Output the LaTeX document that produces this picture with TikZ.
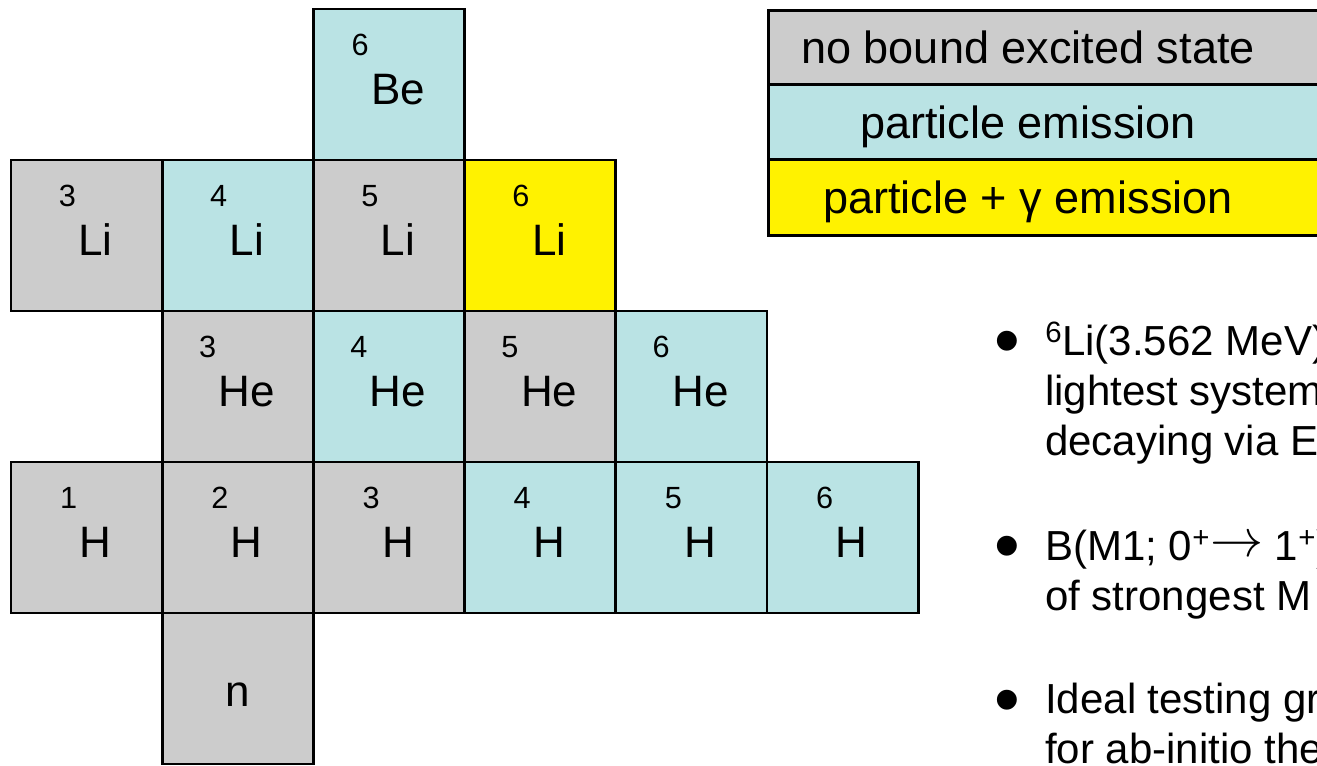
\documentclass[tikz,border=0pt]{standalone}
\usepackage{fontspec}
\setmainfont{Liberation Sans}
\usetikzlibrary{calc}
\definecolor{cgray}{RGB}{204,204,204}
\definecolor{ccyan}{RGB}{186,227,228}
\definecolor{cyel}{RGB}{255,242,0}
\newcommand\nuc[6]{%
  \node[cell, fill=#4] (#1) at ({11+151.2*(#2+0.5)}, {9+151*(#3+0.5)}) {};
  \node[sym, anchor=base] (#1s) at ({11+151.2*(#2+0.5)+9}, {9+151*#3+95}) {#6};
  \node[num, anchor=base east] (#1n) at ($(#1s.base west)+(-2,-49)$) {#5};
}
\begin{document}
\begin{tikzpicture}[x=0.75pt,y=-0.75pt,
  cell/.style={draw=black, line width=2.2pt, minimum width=113.4pt, minimum height=113.25pt, inner sep=0pt},
  sym/.style={font=\fontsize{33}{40}\selectfont, inner sep=0pt},
  num/.style={font=\fontsize{23}{28}\selectfont, inner sep=0pt},
  leg/.style={draw=black, line width=2.2pt, minimum width=450pt, inner sep=0pt, anchor=north west},
  legtext/.style={font=\fontsize{33.8}{40}\selectfont, inner sep=0pt, anchor=base},
  bul/.style={font=\fontsize{31.5}{38}\selectfont, inner sep=0pt, anchor=base west},
  dot/.style={font=\fontsize{55}{60}\selectfont, inner sep=0pt}]
\clip (0,0) rectangle (1317,765);
\fill[white] (0,0) rectangle (1317,765);
% Row 0
\nuc{Be6}{2}{0}{ccyan}{6}{Be}
% Row 1
\nuc{Li3}{0}{1}{cgray}{3}{Li}
\nuc{Li4}{1}{1}{ccyan}{4}{Li}
\nuc{Li5}{2}{1}{cgray}{5}{Li}
\nuc{Li6}{3}{1}{cyel}{6}{Li}
% Row 2
\nuc{He3}{1}{2}{cgray}{3}{He}
\nuc{He4}{2}{2}{ccyan}{4}{He}
\nuc{He5}{3}{2}{cgray}{5}{He}
\nuc{He6}{4}{2}{ccyan}{6}{He}
% Row 3
\nuc{H1}{0}{3}{cgray}{1}{H}
\nuc{H2}{1}{3}{cgray}{2}{H}
\nuc{H3}{2}{3}{cgray}{3}{H}
\nuc{H4}{3}{3}{ccyan}{4}{H}
\nuc{H5}{4}{3}{ccyan}{5}{H}
\nuc{H6}{5}{3}{ccyan}{6}{H}
% Row 4
\node[cell, fill=cgray] (n1) at ({11+151.2*1.5}, {9+151*4.5}) {};
\node[sym, anchor=base] (n1s) at ({11+151.2*1.5}, {9+151*4+93}) {n};
% Legend
\node[leg, fill=cgray, minimum height=55.5pt] (L1) at (767,9) {};
\node[leg, fill=ccyan, minimum height=56.25pt] (L2) at (767,83) {};
\node[leg, fill=cyel, minimum height=57pt] (L3) at (767,158) {};
\node[legtext] (L1t) at (1028,63) {no bound excited state};
\node[legtext] (L2t) at (1028,138) {particle emission};
\node[legtext] (L3t) at (1028,213) {particle + γ emission};
% Bullets
\node[dot] (d1) at (1007,348) {•};
\node[dot] (d2) at (1007,553) {•};
\node[dot] (d3) at (1007,707) {•};
\node[bul] (b1a) at (1045,355) {\textsuperscript{6}Li(3.562 MeV)};
\node[bul] (b1b) at (1045,405) {lightest system};
\node[bul] (b1c) at (1045,455) {decaying via E};
\node[bul] (b2a) at (1045,560) {B(M1; 0\textsuperscript{+}\raisebox{0.15ex}{\scalebox{1.6}{$\rightarrow$}}\ 1\textsuperscript{+})};
\node[bul] (b2b) at (1045,610) {of strongest M};
\node[bul] (b3a) at (1045,713) {Ideal testing gr};
\node[bul] (b3b) at (1045,763) {for ab-initio the};
\end{tikzpicture}
\end{document}
